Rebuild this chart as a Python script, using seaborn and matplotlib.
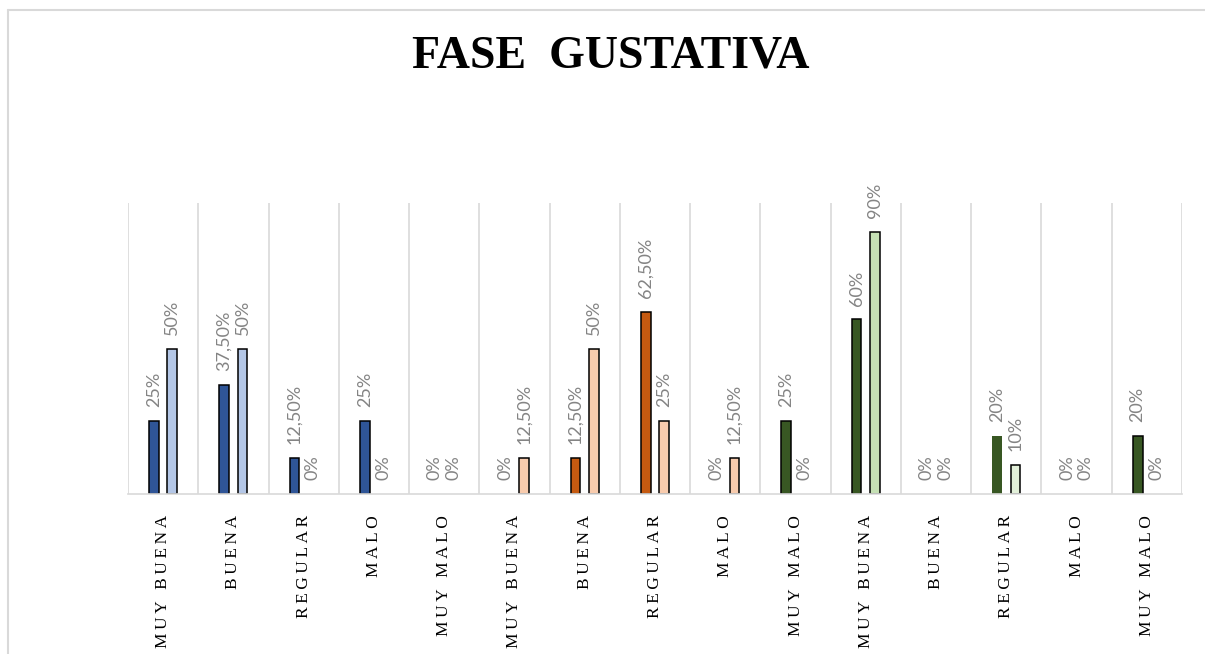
import pandas as pd
import numpy as np
import seaborn as sns
import matplotlib.pyplot as plt
from matplotlib.lines import Line2D

# datos (porcentajes)
categorias = ['MUY BUENA', 'BUENA', 'REGULAR', 'MALO', 'MUY MALO',
              'MUY BUENA', 'BUENA', 'REGULAR', 'MALO', 'MUY MALO',
              'MUY BUENA', 'BUENA', 'REGULAR', 'MALO', 'MUY MALO']
serie1 = [25, 37.5, 12.5, 25, 0,
          0, 12.5, 62.5, 0, 25,
          60, 0, 20, 0, 20]
serie2 = [50, 50, 0, 0, 0,
          12.5, 50, 25, 12.5, 0,
          90, 0, 10, 0, 0]

# color de cada barra (en el original la barra oscura de la 10a categoria ya es verde)
colores_s1 = ['#2F5597'] * 5 + ['#C55A11'] * 4 + ['#385723'] * 6
colores_s2 = ['#B4C7E7'] * 5 + ['#F8CBAD'] * 5 + ['#C5E0B4'] * 5


def etiqueta(v):
    if float(v).is_integer():
        return f"{v:.0f}%"
    return f"{v:.2f}%".replace('.', ',')


n = len(categorias)
df = pd.DataFrame({
    'idx': list(range(n)) * 2,
    'valor': [v / 100 for v in serie1] + [v / 100 for v in serie2],
    'serie': ['s1'] * n + ['s2'] * n,
})

sns.set_style('white')
plt.rcParams['font.family'] = ['DejaVu Sans']
plt.rcParams['text.color'] = 'black'

fig = plt.figure(figsize=(12.05, 6.54), dpi=100)
ax = fig.add_axes([128 / 1205, 1 - 494 / 654, (1182 - 128) / 1205, (494 - 203) / 654])

sns.barplot(data=df, x='idx', y='valor', hue='serie', width=0.524, gap=0.47,
            edgecolor='black', linewidth=1.1, legend=False, ax=ax)

for cont, vals, cols in zip(ax.containers, [serie1, serie2], [colores_s1, colores_s2]):
    for i, bar in enumerate(cont):
        bar.set_facecolor(cols[i])
        if vals[i] == 0:
            bar.set_linewidth(0)
    ax.bar_label(cont, labels=[etiqueta(v) for v in vals], rotation=90, padding=10,
                 color='#848484', fontsize=13, family='Lato')

# la barra REGULAR del tercer bloque va sin borde y mas clara
ax.containers[0][12].set_linewidth(0)
ax.containers[1][12].set_facecolor('#E2F0D9')

ax.set_xlim(-0.5, n - 0.5)
ax.set_ylim(0, 1.0)
ax.set_xlabel('')
ax.set_ylabel('')
ax.set_yticks([])

sep = '\u2009'
ax.set_xticks(range(n))
ax.set_xticklabels([sep.join(c) for c in categorias], rotation=90, va='top',
                   family='Liberation Serif', fontsize=12.5, color='#000000')
ax.tick_params(axis='x', length=0, pad=15)

ax.set_xticks(np.arange(-0.5, n, 1), minor=True)
ax.tick_params(axis='x', which='minor', length=0)
ax.grid(which='minor', axis='x', color='#D9D9D9', linewidth=1.2)
ax.grid(which='major', visible=False)

for s in ['top', 'left', 'right']:
    ax.spines[s].set_visible(False)
ax.spines['bottom'].set_color('#D9D9D9')
ax.spines['bottom'].set_linewidth(1.2)

fig.text(611 / 1205, 1 - 57 / 654, 'FASE  GUSTATIVA', ha='center', va='center',
         color='black', fontsize=33, fontweight='bold', family='Liberation Serif')

# borde del area del grafico
fig.add_artist(Line2D([8 / 1205, 1], [1 - 10 / 654, 1 - 10 / 654],
                      transform=fig.transFigure, color='#D9D9D9', linewidth=1.5))
fig.add_artist(Line2D([8 / 1205, 8 / 1205], [0, 1 - 10 / 654],
                      transform=fig.transFigure, color='#D9D9D9', linewidth=1.5))

fig.savefig('out.png', dpi=100)
